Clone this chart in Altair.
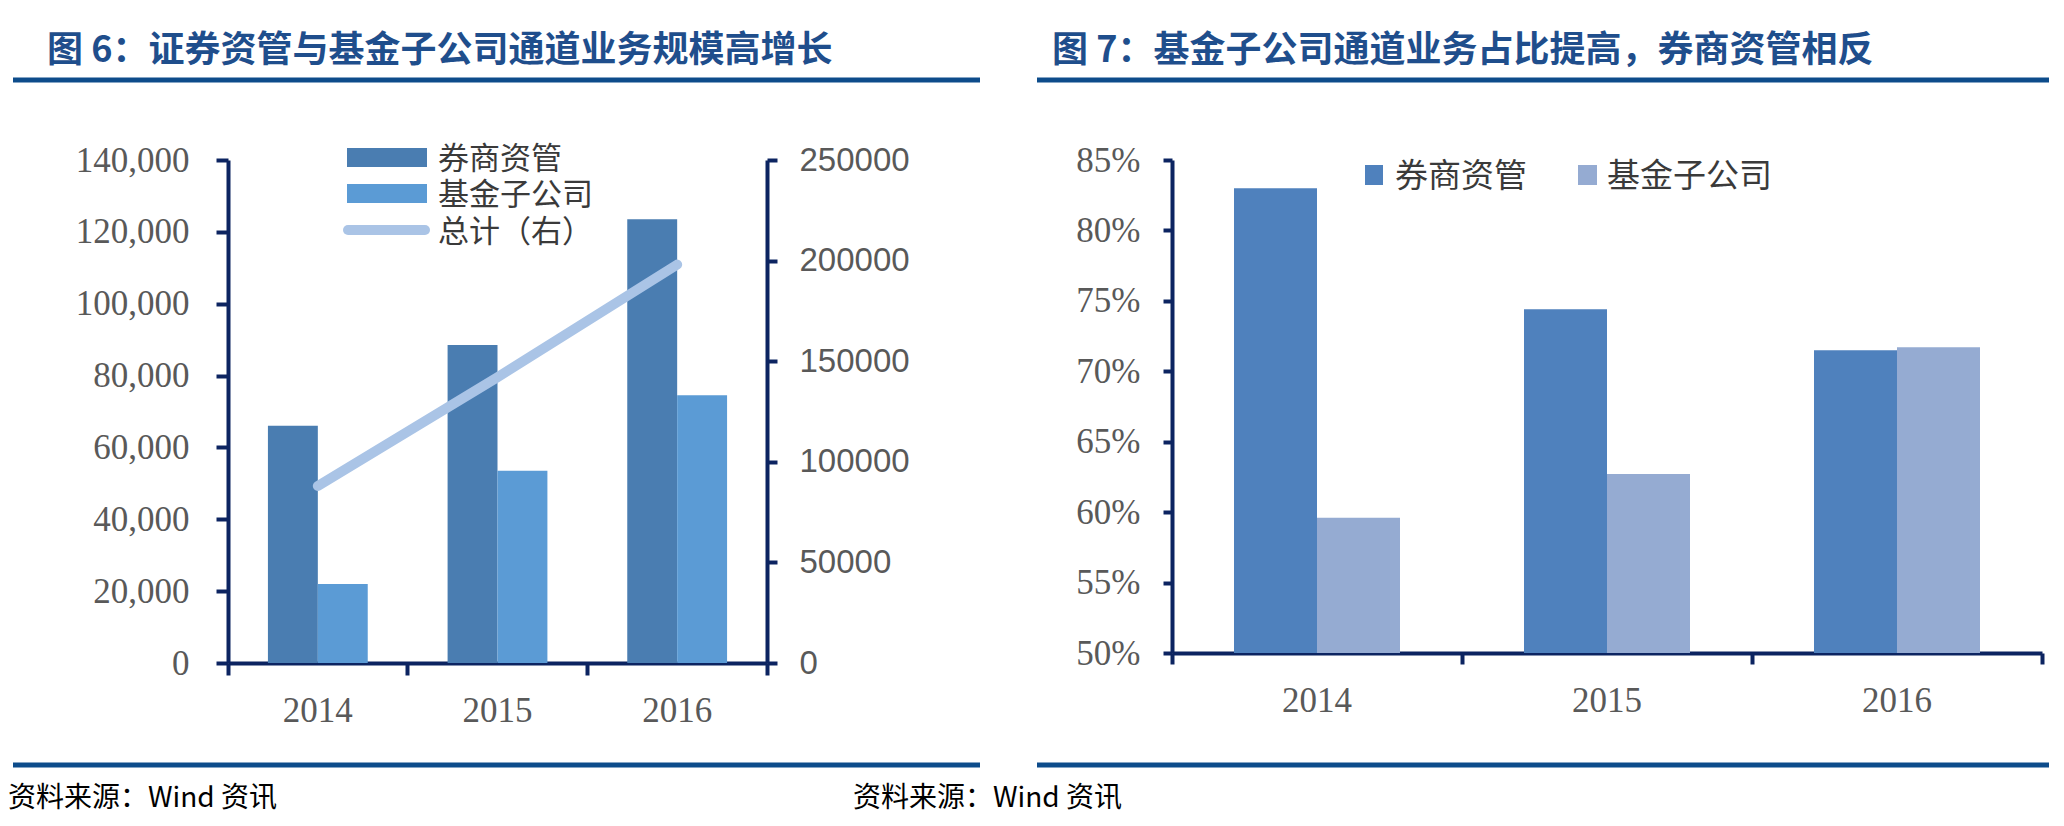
import altair as alt
import pandas as pd

# ---------------- data ----------------
years = ["2014", "2015", "2016"]
series = ["券商资管", "基金子公司"]
line_name = "总计（右）"
broker_scale = [66000, 88500, 123500]
fund_scale = [22000, 53500, 74500]
total_scale = [88000, 142000, 198000]
broker_share = [0.830, 0.744, 0.715]
fund_share = [0.596, 0.627, 0.717]
left_ticks = [0, 20000, 40000, 60000, 80000, 100000, 120000, 140000]
right_ticks = [0, 50000, 100000, 150000, 200000, 250000]
share_ticks = [0.50, 0.55, 0.60, 0.65, 0.70, 0.75, 0.80, 0.85]
title_left = "图 6：证券资管与基金子公司通道业务规模高增长"
title_right = "图 7：基金子公司通道业务占比提高，券商资管相反"
source_text = "资料来源：Wind 资讯"

df_scale = pd.DataFrame({
    "year": years * 2,
    "series": [series[0]] * 3 + [series[1]] * 3,
    "value": broker_scale + fund_scale,
})
df_total = pd.DataFrame({"year": years, "total": total_scale})
df_share = pd.DataFrame({
    "yr": years * 2,
    "grp": [series[0]] * 3 + [series[1]] * 3,
    "share": broker_share + fund_share,
})
dummy = pd.DataFrame({"d": [0]})

# ---------------- styles ----------------
NAVY = "#0C2461"
GRAY = "#595959"
TITLE_C = "#1F4E8C"
LINE_C = "#0D4C8B"
DARK_L = "#4A7DB1"
LIGHT_L = "#5B9BD5"
TOTAL_C = "#AAC4E6"
DARK_R = "#4F81BD"
LIGHT_R = "#95ABD2"
CJK = "Noto Sans CJK SC"
SERIF = "Liberation Serif"
SANS = "Liberation Sans"

LW, LH = 539, 503
RW, RH = 870, 493
SPACING = 405


def rule(x1, x2, y, color, width, cap="butt"):
    return alt.Chart(dummy).mark_rule(color=color, strokeWidth=width, strokeCap=cap).encode(
        x=alt.value(x1), x2=alt.value(x2), y=alt.value(y))


def rect(x1, x2, y1, y2, color):
    return alt.Chart(dummy).mark_rect(color=color).encode(
        x=alt.value(x1), x2=alt.value(x2), y=alt.value(y1), y2=alt.value(y2))


def text(s, x, y, size, color, weight="normal", font=CJK):
    return alt.Chart(dummy).mark_text(text=s, align="left", baseline="middle", fontSize=size,
                                      color=color, fontWeight=weight, font=font).encode(
        x=alt.value(x), y=alt.value(y))


def x_axis(tick, pad):
    return alt.Axis(title=None, bandPosition=1, tickExtra=True, labelAngle=0,
                    labelFont=SERIF, labelFontSize=35, labelColor=GRAY, labelPadding=pad,
                    tickSize=tick, tickWidth=4, tickColor=NAVY, domainColor=NAVY, domainWidth=4,
                    grid=False)


# ---------------- left panel ----------------
x_l = alt.X("year:N", sort=years, scale=alt.Scale(paddingInner=0, paddingOuter=0),
            axis=x_axis(12, 18))

bars_l = alt.Chart(df_scale).mark_bar().encode(
    x=x_l,
    xOffset=alt.XOffset("series:N", sort=series, scale=alt.Scale(paddingInner=0, paddingOuter=0.8)),
    y=alt.Y("value:Q", scale=alt.Scale(domain=[0, 140000], nice=False),
            axis=alt.Axis(title=None, values=left_ticks, format=",d", labelFont=SERIF, labelFontSize=35,
                          labelColor=GRAY, labelPadding=27, tickSize=12, tickWidth=4, tickColor=NAVY,
                          domainColor=NAVY, domainWidth=4, grid=False)),
    color=alt.Color("series:N", sort=series, scale=alt.Scale(domain=series, range=[DARK_L, LIGHT_L]),
                    legend=None),
)

line_l = alt.Chart(df_total).mark_line(color=TOTAL_C, strokeWidth=10, strokeCap="round").encode(
    x=x_l,
    y=alt.Y("total:Q", scale=alt.Scale(domain=[0, 250000], nice=False),
            axis=alt.Axis(title=None, orient="right", values=right_ticks, format="d", labelFont=SANS,
                          labelFontSize=33, labelColor=GRAY, labelPadding=22, tickSize=10, tickWidth=4,
                          tickColor=NAVY, domainColor=NAVY, domainWidth=4, grid=False)),
)

decor_l = [
    text(title_left, -181, -109, 36, TITLE_C, "bold"),
    rule(-215, 752, -80, LINE_C, 5),
    rule(-215, 752, 605, LINE_C, 5),
    text(source_text, -220, 639, 28, "#000000"),
    rect(119, 199, -12, 7, DARK_L),
    rect(119, 199, 24, 43, LIGHT_L),
    rule(120, 197, 70, TOTAL_C, 10, "round"),
    text(series[0], 210, 0, 31, "#3A3A3A"),
    text(series[1], 210, 36, 31, "#3A3A3A"),
    text(line_name, 210, 73, 31, "#3A3A3A"),
]

left = alt.layer(bars_l, line_l, *decor_l).resolve_scale(y="independent").properties(width=LW, height=LH)

# ---------------- right panel ----------------
x_r = alt.X("yr:N", sort=years, scale=alt.Scale(paddingInner=0, paddingOuter=0),
            axis=x_axis(11, 19))

bars_r = alt.Chart(df_share).mark_bar().encode(
    x=x_r,
    xOffset=alt.XOffset("grp:N", sort=series, scale=alt.Scale(paddingInner=0, paddingOuter=0.747)),
    y=alt.Y("share:Q", scale=alt.Scale(domain=[0.5, 0.85], nice=False, zero=False),
            axis=alt.Axis(title=None, values=share_ticks, format=".0%", labelFont=SERIF, labelFontSize=35,
                          labelColor=GRAY, labelPadding=23, tickSize=9, tickWidth=4, tickColor=NAVY,
                          domainColor=NAVY, domainWidth=4, grid=False)),
    y2=alt.datum(0.5),
    color=alt.Color("grp:N", sort=series, scale=alt.Scale(domain=series, range=[DARK_R, LIGHT_R]),
                    legend=None),
)

decor_r = [
    text(title_right, -120, -109, 36, TITLE_C, "bold"),
    rule(-135, 877, -80, LINE_C, 5),
    rule(-135, 877, 605, LINE_C, 5),
    text(source_text, -319, 639, 28, "#000000"),
    rect(193, 211, 5, 25, DARK_R),
    rect(406, 425, 5, 25, LIGHT_R),
    text(series[0], 223, 17, 33, "#3A3A3A"),
    text(series[1], 435, 17, 33, "#3A3A3A"),
]

right = alt.layer(bars_r, *decor_r).properties(width=RW, height=RH)

chart = alt.hconcat(left, right, spacing=SPACING, bounds="flush").resolve_scale(
    color="independent", xOffset="independent"
).properties(
    padding={"left": 0, "top": 25, "right": 0, "bottom": 6},
    background="white",
).configure_view(stroke=None)

chart.save("out.html", embed_options={"renderer": "svg", "actions": False})
